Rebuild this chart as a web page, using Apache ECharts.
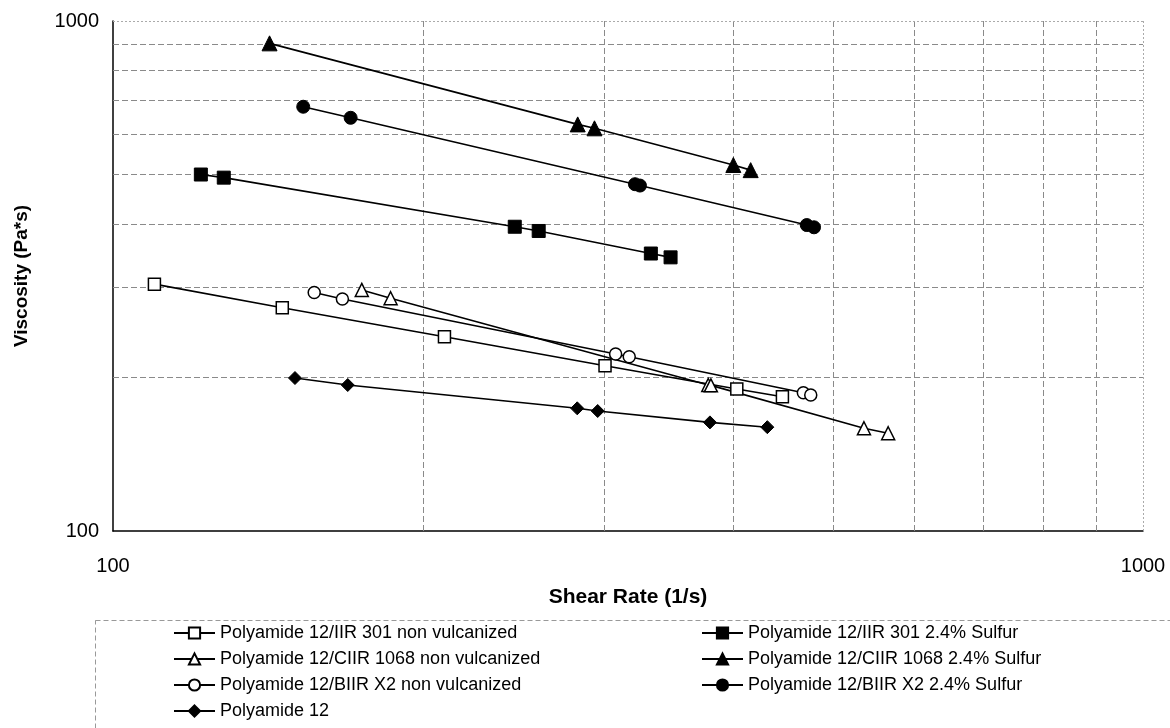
<!DOCTYPE html>
<html>
<head>
<meta charset="utf-8">
<script src="https://cdn.jsdelivr.net/npm/echarts@6/dist/echarts.min.js"></script>
<style>
html,body{margin:0;padding:0;background:#fff;}
#chart{width:1170px;height:728px;}
</style>
</head>
<body>
<div id="chart"></div>
<script>
// Series data (Shear rate 1/s, Viscosity Pa*s)
const iirNonX  = [109.7, 146.0, 209.8, 300.4, 403.3, 446.6];
const iirNonY  = [304.8, 274.0, 240.4, 210.9, 189.9, 183.4];
const iirSX    = [121.7, 128.1, 245.5, 259.0, 332.8, 347.8];
const iirSY    = [500.0, 493.0, 395.0, 387.5, 350.0, 344.0];
const ciirNonX = [174.4, 186.0, 378.4, 380.6, 535.9, 565.7];
const ciirNonY = [297.0, 286.0, 193.3, 193.0, 159.0, 155.5];
const ciirSX   = [141.9, 282.6, 293.4, 400.2, 416.0];
const ciirSY   = [904.0, 627.0, 616.0, 522.0, 510.0];
const biirNonX = [156.8, 167.0, 307.6, 317.1, 468.0, 475.8];
const biirNonY = [293.5, 285.0, 222.4, 219.7, 186.7, 184.8];
const biirSX   = [153.0, 170.1, 321.2, 324.8, 471.6, 479.3];
const biirSY   = [679.0, 646.0, 478.6, 475.7, 398.0, 394.0];
const paX      = [150.2, 169.0, 282.3, 295.5, 379.8, 431.8];
const paY      = [199.5, 193.3, 174.0, 171.9, 163.3, 159.8];

const names = [
  'Polyamide 12/IIR 301 non vulcanized',
  'Polyamide 12/IIR 301 2.4% Sulfur',
  'Polyamide 12/CIIR 1068 non vulcanized',
  'Polyamide 12/CIIR 1068 2.4% Sulfur',
  'Polyamide 12/BIIR X2 non vulcanized',
  'Polyamide 12/BIIR X2 2.4% Sulfur',
  'Polyamide 12'
];
const gridTicks = [200, 300, 400, 500, 600, 700, 800, 900];
const axisMin = 100, axisMax = 1000;

const FONT = "'Liberation Sans', Arial, sans-serif";
function pairs(xs, ys){ return xs.map((x,i)=>[x, ys[i]]); }

function mkSeries(name, xs, ys, symbol, size, filled){
  return {
    name: name, type: 'line', data: pairs(xs, ys),
    symbol: symbol, symbolSize: size,
    lineStyle: {color: '#000', width: 1.6},
    itemStyle: filled ? {color: '#000', borderColor: '#000', borderWidth: 1}
                      : {color: '#fff', borderColor: '#000', borderWidth: 1.5},
    emphasis: {disabled: true},
    z: 5
  };
}

const series = [
  mkSeries(names[0], iirNonX, iirNonY, 'rect', 12, false),
  mkSeries(names[1], iirSX, iirSY, 'rect', 13, true),
  mkSeries(names[2], ciirNonX, ciirNonY, 'triangle', 13, false),
  mkSeries(names[3], ciirSX, ciirSY, 'triangle', 15, true),
  mkSeries(names[4], biirNonX, biirNonY, 'circle', 12, false),
  mkSeries(names[5], biirSX, biirSY, 'circle', 13, true),
  mkSeries(names[6], paX, paY, 'diamond', 13, true),
  {
    name: 'grid', type: 'line', data: [[axisMin, axisMin]], symbol: 'none',
    lineStyle: {opacity: 0}, silent: true, z: 1,
    markLine: {
      silent: true, symbol: ['none','none'], label: {show: false},
      lineStyle: {color: '#8a8a8a', type: [6, 3], width: 1},
      data: gridTicks.map(v=>({xAxis: v})).concat(gridTicks.map(v=>({yAxis: v})))
        .concat([{xAxis: axisMax, lineStyle:{color:'#aaa', type:[2,2]}}, {yAxis: axisMax, lineStyle:{color:'#aaa', type:[2,2]}}])
    }
  }
];

const legendBase = {
  orient: 'vertical', top: 619, itemGap: 8,
  itemWidth: 41, itemHeight: 14, selectedMode: false,
  textStyle: {fontSize: 18, color: '#000', fontFamily: FONT}
};

const chart = echarts.init(document.getElementById('chart'), null, {renderer: 'canvas'});
chart.setOption({
  animation: false,
  backgroundColor: '#fff',
  textStyle: {fontFamily: FONT},
  grid: {left: 113, top: 21, width: 1030, height: 510, containLabel: false},
  xAxis: {
    type: 'log', logBase: 10, min: axisMin, max: axisMax,
    name: 'Shear Rate (1/s)', nameLocation: 'middle', nameGap: 56,
    nameTextStyle: {fontSize: 21, fontWeight: 'bold', color: '#000', fontFamily: FONT},
    axisLine: {show: true, lineStyle: {color: '#000', width: 1.5}},
    axisTick: {show: false},
    splitLine: {show: false},
    axisLabel: {fontSize: 20, color: '#000', margin: 25, fontFamily: FONT,
      formatter: v => String(Math.round(v))}
  },
  yAxis: {
    type: 'log', logBase: 10, min: axisMin, max: axisMax,
    name: 'Viscosity (Pa*s)', nameLocation: 'middle', nameGap: 82,
    nameTextStyle: {fontSize: 19, fontWeight: 'bold', color: '#000', fontFamily: FONT},
    axisLine: {show: true, lineStyle: {color: '#000', width: 1.5}},
    axisTick: {show: false},
    splitLine: {show: false},
    axisLabel: {fontSize: 20, color: '#000', margin: 14, fontFamily: FONT,
      formatter: v => String(Math.round(v))}
  },
  legend: [
    Object.assign({}, legendBase, {data: [names[0], names[2], names[4], names[6]], left: 168}),
    Object.assign({}, legendBase, {data: [names[1], names[3], names[5]], left: 696})
  ],
  graphic: [
    {
      type: 'rect', left: 93, top: 618, silent: true,
      shape: {width: 1100, height: 130},
      style: {fill: 'none', stroke: '#999', lineWidth: 1, lineDash: [5, 3]}
    }
  ],
  series: series
});
</script>
</body>
</html>
